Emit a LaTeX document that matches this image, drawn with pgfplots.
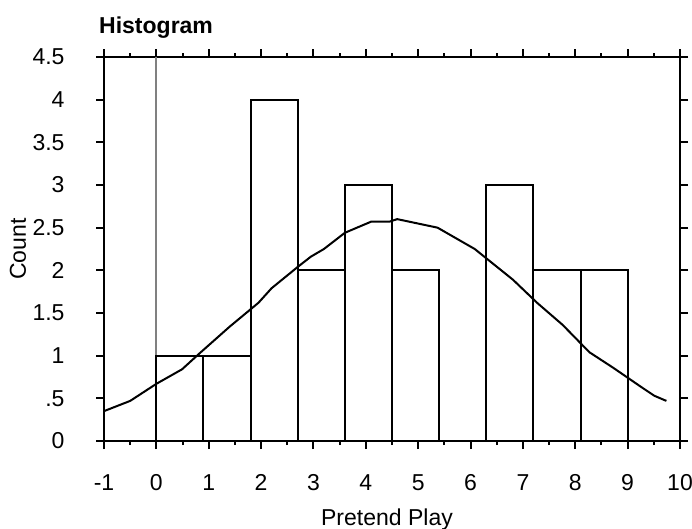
\documentclass[border=0pt]{standalone}
\usepackage{pgfplots}
\pgfplotsset{compat=1.18}
\usepackage{fontspec}
\setmainfont{Liberation Sans}
\begin{document}
\begin{tikzpicture}
\useasboundingbox (-104bp,-88bp) rectangle (588bp,441bp);
\begin{axis}[
  at={(0,0)}, anchor=south west,
  scale only axis, width=576bp, height=384bp,
  xmin=-1, xmax=10, ymin=0, ymax=4.5,
  axis line style={line width=2bp},
  every tick/.style={line width=2bp, black},
  tick align=outside,
  major tick length=8bp, minor tick length=4bp,
  xtick={-1,0,...,10},
  minor x tick num=1,
  ytick={0,0.5,1,1.5,2,2.5,3,3.5,4,4.5},
  yticklabels={0,.5,1,1.5,2,2.5,3,3.5,4,4.5},
  /pgf/number format/assume math mode=true,
  tick label style={font=\fontsize{23bp}{27bp}\selectfont},
  label style={font=\fontsize{23bp}{27bp}\selectfont},
  xticklabel style={yshift=-22bp},
  yticklabel shift=28bp,
  xlabel={Pretend Play},
  ylabel={Count},
  xlabel style={at={(axis description cs:0.5,0)}, anchor=base, yshift=-84bp, xshift=-5bp},
  ylabel style={at={(axis description cs:0,0.5)}, anchor=base, yshift=78bp},
  clip=false,
]
\addplot[color=gray, line width=2bp] coordinates {(0,0) (0,4.5)};
\addplot[ybar interval, draw=black, fill=none, line width=2bp] coordinates {
(0,1) (0.9,1) (1.8,4) (2.7,2) (3.6,3) (4.5,2) (5.4,0) (6.3,3) (7.2,2) (8.1,2) (9,2)
};
\addplot[black, line width=2bp, mark=none] coordinates {
(-1.0,0.35) (-0.5,0.47) (0.0,0.67) (0.49,0.84) (0.83,1.03) (1.4,1.34) (1.95,1.62)
(2.2,1.79) (2.7,2.04) (2.95,2.16) (3.2,2.25) (3.6,2.44) (4.1,2.57) (4.45,2.57)
(4.6,2.60) (5.37,2.50) (6.08,2.25) (6.81,1.89) (7.27,1.62) (7.76,1.36) (8.27,1.04)
(8.72,0.86) (9.29,0.62) (9.51,0.53) (9.74,0.47)
};
\node[anchor=base west, font=\bfseries\fontsize{23bp}{27bp}\selectfont, inner sep=0pt] at ([xshift=-5bp,yshift=24bp]rel axis cs:0,1) {Histogram};
\end{axis}
\end{tikzpicture}
\end{document}
